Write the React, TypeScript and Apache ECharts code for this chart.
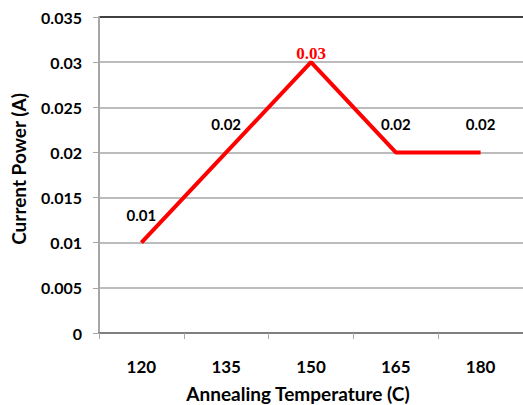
import React, { useEffect, useRef } from "react";
import * as echarts from "echarts";

const categories = ["120", "135", "150", "165", "180"];
const values = [0.01, 0.02, 0.03, 0.02, 0.02];
const labels = ["0.01", "0.02", "0.03", "0.02", "0.02"];
const yTicks = [0, 0.005, 0.01, 0.015, 0.02, 0.025, 0.03, 0.035];
const xTitle = "Annealing Temperature (C)";
const yTitle = "Current Power (A)";

const FONT = "Lato";

export default function App() {
  const ref = useRef<HTMLDivElement>(null);
  useEffect(() => {
    const chart = echarts.init(ref.current!, undefined, { renderer: "svg" });
    const gridColors = yTicks.map((_, i) => (i === yTicks.length - 1 ? "#000000" : "#a6a6a6"));
    chart.setOption({
      animation: false,
      backgroundColor: "#ffffff",
      grid: { left: 99, top: 17, width: 426, height: 316, containLabel: false },
      xAxis: {
        type: "category",
        data: categories,
        boundaryGap: true,
        axisLine: { lineStyle: { color: "#7f7f7f", width: 2 } },
        axisTick: { show: true, length: 6, lineStyle: { color: "#a6a6a6", width: 1 } },
        axisLabel: {
          margin: 25,
          color: "#000",
          fontFamily: FONT,
          fontWeight: "bold",
          fontSize: 17,
        },
      },
      yAxis: {
        type: "value",
        min: 0,
        max: 0.035,
        interval: 0.005,
        axisLine: { show: true, lineStyle: { color: "#a6a6a6", width: 2 } },
        axisTick: { show: true, length: 6, lineStyle: { color: "#a6a6a6", width: 1 } },
        splitLine: { show: true, lineStyle: { color: gridColors, width: 1.5 } },
        axisLabel: {
          margin: 17,
          color: "#000",
          fontFamily: FONT,
          fontWeight: "bold",
          fontSize: 16,
          formatter: (v: number) => String(parseFloat(v.toFixed(3))),
        },
      },
      graphic: [
        {
          type: "text",
          x: 298,
          y: 393,
          style: {
            text: xTitle,
            fill: "#000",
            font: `bold 19px ${FONT}`,
            align: "center",
            verticalAlign: "middle",
          },
        },
        {
          type: "text",
          x: 18,
          y: 169,
          rotation: Math.PI / 2,
          style: {
            text: yTitle,
            fill: "#000",
            font: `bold 19px ${FONT}`,
            align: "center",
            verticalAlign: "middle",
          },
        },
      ],
      series: [
        {
          type: "line",
          data: values.map((v, i) => ({
            value: v,
            label:
              i === 2
                ? {
                    show: true,
                    position: "top",
                    distance: 0,
                    formatter: labels[i],
                    color: "#ff0000",
                    fontFamily: "Liberation Serif",
                    fontWeight: "bold",
                    fontSize: 17,
                  }
                : {
                    show: true,
                    position: "top",
                    distance: 20,
                    formatter: labels[i],
                    color: "#000",
                    fontFamily: FONT,
                    fontWeight: "bold",
                    fontSize: 15,
                  },
          })),
          symbol: "circle",
          symbolSize: 1,
          showSymbol: true,
          itemStyle: { color: "rgba(0,0,0,0)" },
          lineStyle: { color: "#ff0000", width: 4 },
        },
      ],
    });
    return () => chart.dispose();
  }, []);
  return <div ref={ref} style={{ width: 523, height: 405, position: "absolute", left: 0, top: 0 }} />;
}
